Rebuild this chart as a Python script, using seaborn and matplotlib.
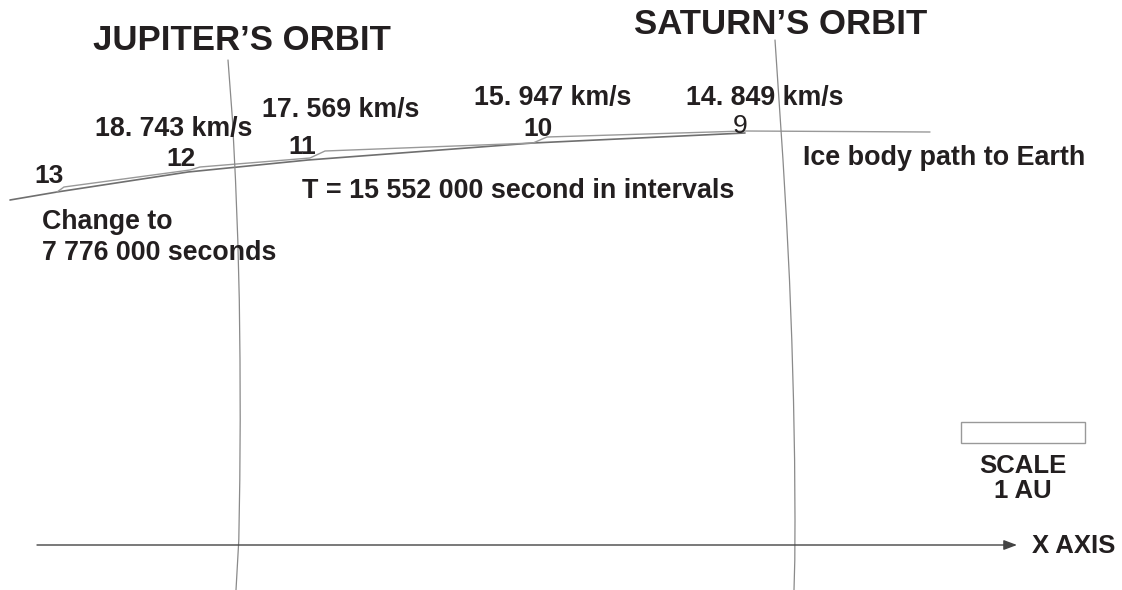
import numpy as np
import pandas as pd
import seaborn as sns
import matplotlib.pyplot as plt

# diagram drawn in picture coordinates (x right, y down)
path_x = [10, 57, 188, 308, 533, 745]
path_y = [200, 192, 172, 160, 143, 133]
path2_x = [57, 64, 190, 200, 310, 325, 533, 547, 745, 930]
path2_y = [192, 187, 170, 167, 158, 151, 143, 137, 131, 132]

jupiter_x = [228, 232.5, 235.5, 237.8, 239.3, 240, 240.2, 239.8, 238.8, 236]
jupiter_y = [60, 120, 180, 240, 300, 360, 420, 480, 540, 590]
saturn_x = [775, 779, 783, 786.5, 789.5, 791.8, 793.5, 794.6, 795, 794.8, 794]
saturn_y = [40, 100, 160, 220, 280, 340, 400, 460, 520, 560, 590]

point_labels = ['13', '12', '11', '10', '9']
point_x = [49, 181, 302, 538, 740]
point_y = [176, 159, 147, 129, 126]

speed_labels = ['18. 743 km/s', '17. 569 km/s', '15. 947 km/s', '14. 849 km/s']
speed_x = [174, 341, 553, 765]
speed_y = [129, 110, 98, 98]

sns.set_style('white')
plt.rcParams['font.family'] = ['Liberation Sans', 'DejaVu Sans']

fig = plt.figure(figsize=(11.22, 5.90), dpi=100)
ax = fig.add_axes([0, 0, 1, 1])

line_col = '#8a8a8a'
sns.lineplot(x=path_x, y=path_y, sort=False, color='#6f6f6f', lw=1.2, ax=ax)
sns.lineplot(x=path2_x, y=path2_y, sort=False, color='#999999', lw=1.0, ax=ax)
sns.lineplot(x=jupiter_x, y=jupiter_y, sort=False, color=line_col, lw=0.9, ax=ax)
sns.lineplot(x=saturn_x, y=saturn_y, sort=False, color=line_col, lw=0.9, ax=ax)

# x axis arrow
ax.annotate('', xy=(1017, 545), xytext=(37, 545),
            arrowprops=dict(arrowstyle='-|>,head_length=0.8,head_width=0.3',
                            color='#444444', lw=1.0, shrinkA=0, shrinkB=0))
ax.text(1032, 546, 'X AXIS', fontsize=18.5, fontweight='bold', color='#231f20',
        va='center', ha='left')

# scale box
ax.add_patch(plt.Rectangle((961, 422), 124, 21, fill=False, ec='#999999', lw=1.0))
ax.text(1023, 466, 'SCALE', fontsize=18.5, fontweight='bold', color='#231f20',
        ha='center', va='center')
ax.text(1023, 491, '1 AU', fontsize=18.5, fontweight='bold', color='#231f20',
        ha='center', va='center')

txt = dict(fontweight='bold', color='#231f20')
ax.text(93, 41, "JUPITER\u2019S ORBIT", fontsize=25, ha='left', va='center', **txt)
ax.text(634, 25, "SATURN\u2019S ORBIT", fontsize=25, ha='left', va='center', **txt)

for lab, x, y in zip(speed_labels, speed_x, speed_y):
    ax.text(x, y, lab, fontsize=19.3, ha='center', va='center', **txt)

for lab, x, y in zip(point_labels, point_x, point_y):
    w = 'normal' if lab == '9' else 'bold'
    ax.text(x, y, lab, fontsize=19, fontweight=w, color='#231f20',
            ha='center', va='center')

ax.text(803, 158, 'Ice body path to Earth', fontsize=19.4, ha='left', va='center', **txt)
ax.text(302, 191, 'T = 15 552 000 second in intervals', fontsize=19.4,
        ha='left', va='center', **txt)
ax.text(42, 222, 'Change to', fontsize=19.3, ha='left', va='center', **txt)
ax.text(42, 253, '7 776 000 seconds', fontsize=19.3, ha='left', va='center', **txt)

ax.set_xlim(0, 1122)
ax.set_ylim(590, 0)
ax.axis('off')

fig.savefig('out.png', dpi=100, facecolor='white')
